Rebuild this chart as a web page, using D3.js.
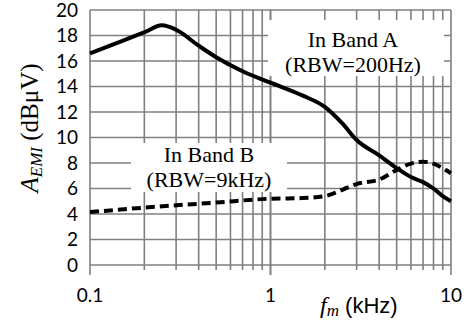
<!DOCTYPE html>
<html>
<head>
<meta charset="utf-8">
<script src="https://cdn.jsdelivr.net/npm/d3@7"></script>
<style>
  body { margin: 0; background: #fff; }
  svg { display: block; }
</style>
</head>
<body>
<div id="chart"></div>
<script>
// band A (solid) and band B (dashed) readings, kHz vs dBuV
var freqA = [0.1, 0.15, 0.2, 0.25, 0.3, 0.4, 0.5, 0.7, 1, 1.5, 2, 2.5, 3, 4, 5, 6, 7, 8, 9, 10];
var valA  = [16.6, 17.55, 18.25, 18.8, 18.45, 17.2, 16.3, 15.2, 14.3, 13.3, 12.4, 11.1, 9.8, 8.6, 7.6, 6.9, 6.5, 6.0, 5.4, 5.0];
var freqB = [0.1, 0.2, 0.5, 1, 1.5, 2, 2.5, 3, 4, 5, 6, 7, 8, 9, 10];
var valB  = [4.15, 4.5, 4.9, 5.2, 5.25, 5.4, 5.9, 6.35, 6.7, 7.45, 7.95, 8.1, 7.95, 7.6, 7.2];
var yTicks = [0, 2, 4, 6, 8, 10, 12, 14, 16, 18, 20];
var xMajor = [0.1, 1, 10];

var width = 475, height = 324;
var pLeft = 90, pRight = 451, pTop = 10, pBottom = 265;

var svg = d3.select("#chart").append("svg")
    .attr("width", width)
    .attr("height", height);

var x = d3.scaleLog().domain([0.1, 10]).range([pLeft, pRight]);
var y = d3.scaleLinear().domain([0, 20]).range([pBottom, pTop]);

// minor log ticks 0.1..10
var xMinor = [];
[0.1, 1].forEach(function (d) {
    for (var i = 1; i <= 10; i++) xMinor.push(+(d * i).toFixed(2));
});

var grid = svg.append("g").attr("stroke", "#808080").attr("stroke-width", 1.6);

grid.selectAll(".h").data(yTicks).enter().append("line")
    .attr("x1", pLeft).attr("x2", pRight)
    .attr("y1", function (d) { return y(d); })
    .attr("y2", function (d) { return y(d); });

grid.selectAll(".v").data(xMinor).enter().append("line")
    .attr("x1", function (d) { return x(d); })
    .attr("x2", function (d) { return x(d); })
    .attr("y1", pTop)
    .attr("y2", function (d) { return xMajor.indexOf(d) >= 0 ? pBottom + 10 : pBottom + 5; });

// white label boxes over the grid
svg.append("rect").attr("x", 268).attr("y", 20).attr("width", 176).attr("height", 56).attr("fill", "#fff");
svg.append("rect").attr("x", 131).attr("y", 143).attr("width", 156).attr("height", 49).attr("fill", "#fff");

var line = d3.line()
    .x(function (d) { return x(d[0]); })
    .y(function (d) { return y(d[1]); })
    .curve(d3.curveMonotoneX);

svg.append("path")
    .datum(d3.zip(freqA, valA))
    .attr("d", line)
    .attr("fill", "none")
    .attr("stroke", "#000")
    .attr("stroke-width", 4);

svg.append("path")
    .datum(d3.zip(freqB, valB))
    .attr("d", line)
    .attr("fill", "none")
    .attr("stroke", "#000")
    .attr("stroke-width", 4)
    .attr("stroke-dasharray", "9,5");

// tick labels
svg.selectAll(".yl").data(yTicks).enter().append("text")
    .attr("x", 78)
    .attr("y", function (d) { return y(d) + 6.5; })
    .attr("text-anchor", "end")
    .style("font-family", "Lato, sans-serif")
    .style("font-size", "19px")
    .text(function (d) { return d; });

svg.selectAll(".xl").data(xMajor).enter().append("text")
    .attr("x", function (d) { return x(d); })
    .attr("y", 302)
    .attr("text-anchor", "middle")
    .style("font-family", "Lato, sans-serif")
    .style("font-size", "19px")
    .text(function (d) { return d; });

// axis titles
var yt = svg.append("text")
    .attr("transform", "translate(38,128) rotate(-90)")
    .attr("text-anchor", "middle")
    .style("font-family", "'Liberation Serif', serif")
    .style("font-size", "25px");
yt.append("tspan").style("font-style", "italic").text("A");
yt.append("tspan").style("font-style", "italic").style("font-size", "17px").attr("dy", 4).text("EMI");
yt.append("tspan").attr("dy", -4).text(" (dBμV)");

var xt = svg.append("text")
    .attr("x", 320)
    .attr("y", 313);
xt.append("tspan").style("font-family", "'Liberation Serif', serif").style("font-style", "italic").style("font-size", "24px").text("f");
xt.append("tspan").style("font-family", "'Liberation Serif', serif").style("font-style", "italic").style("font-size", "17px").attr("dy", 3).text("m");
xt.append("tspan").style("font-family", "'Liberation Sans', Arial, sans-serif").style("font-size", "22px").attr("dy", -3).text(" (kHz)");

// band notes
var notes = [
    { x: 353, y: 47, t: "In Band A" },
    { x: 353, y: 72, t: "(RBW=200Hz)" },
    { x: 209, y: 162, t: "In Band B" },
    { x: 209, y: 187, t: "(RBW=9kHz)" }
];
svg.selectAll(".note").data(notes).enter().append("text")
    .attr("x", function (d) { return d.x; })
    .attr("y", function (d) { return d.y; })
    .attr("text-anchor", "middle")
    .style("font-family", "'Liberation Serif', serif")
    .style("font-size", "22px")
    .text(function (d) { return d.t; });
</script>
</body>
</html>
